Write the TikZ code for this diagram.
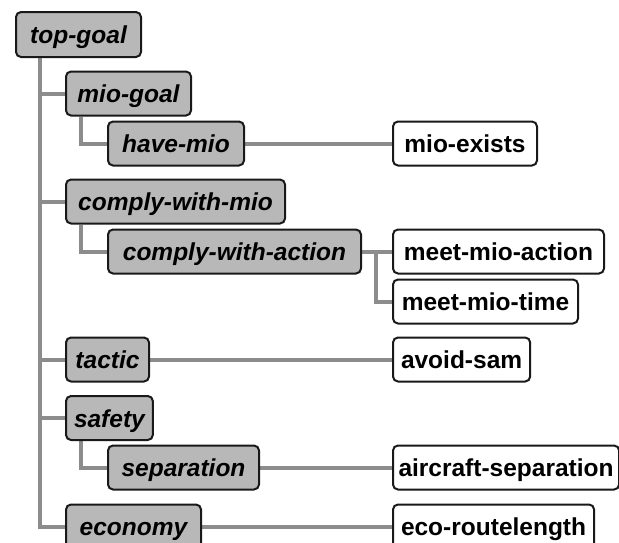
\documentclass[tikz,border=0pt]{standalone}
\usepackage{fontspec}
\setmainfont{Liberation Sans}
\usetikzlibrary{backgrounds}
\definecolor{goalfill}{RGB}{184,184,184}
\definecolor{linkgray}{RGB}{140,140,140}
\tikzset{
  box/.style={draw=black!90, line width=2pt, rounded corners=5pt, anchor=west,
    minimum height=44pt, inner xsep=8pt, inner ysep=0pt,
    text height=20pt, text depth=2pt,
    font=\fontsize{24.5}{28}\selectfont\bfseries},
  goal/.style={box, fill=goalfill, font=\fontsize{24.5}{28}\selectfont\bfseries\itshape},
  leaf/.style={box, fill=white},
  link/.style={draw=linkgray, line width=4pt}
}
\begin{document}
\begin{tikzpicture}[x=1pt,y=-1pt]
\useasboundingbox (0,0) rectangle (619,542);
\clip (0,0) rectangle (619,542);

% goal hierarchy
\node[goal, minimum width=125pt, minimum height=45pt] (top) at (15,34.5) {top-goal};
\node[goal, minimum width=125pt] (miogoal) at (65,93.5) {mio-goal};
\node[goal, minimum width=136pt] (havemio) at (107,143.5) {have-mio};
\node[goal, minimum width=219pt] (comply) at (65,201.5) {comply-with-mio};
\node[goal, minimum width=253pt] (action) at (107,251.5) {comply-with-action};
\node[goal, minimum width=83pt] (tactic) at (65,359.5) {tactic};
\node[goal, minimum width=67pt] (safety) at (65,418) {safety};
\node[goal, minimum width=151pt] (separation) at (107,467.5) {separation};
\node[goal, minimum width=135pt] (economy) at (65,526.5) {economy};

% leaf criteria
\node[leaf, minimum width=144pt] (exists) at (392,143.5) {mio-exists};
\node[leaf, minimum width=211pt] (meetaction) at (392,251.5) {meet-mio-action};
\node[leaf, minimum width=185pt] (meettime) at (392,301.5) {meet-mio-time};
\node[leaf, minimum width=135pt] (avoid) at (392,359.5) {avoid-sam};
\node[leaf, inner xsep=5.5pt] (aircraft) at (392,467.5) {aircraft-separation};
\node[leaf, minimum width=201pt] (eco) at (392,526.5) {eco-routelength};

\begin{scope}[on background layer]
  \fill[white] (0,0) rectangle (619,542);
  % trunk and first-level branches
  \draw[link] ([xshift=25pt]top.south west) |- (economy.west);
  \draw[link] ([xshift=25pt]top.south west) |- (miogoal.west);
  \draw[link] ([xshift=25pt]top.south west) |- (comply.west);
  \draw[link] ([xshift=25pt]top.south west) |- (tactic.west);
  \draw[link] ([xshift=25pt]top.south west) |- (safety.west);
  % second-level branches
  \draw[link] ([xshift=16pt]miogoal.south west) |- (havemio.west);
  \draw[link] ([xshift=16pt]comply.south west) |- (action.west);
  \draw[link] ([xshift=16pt]safety.south west) |- (separation.west);
  % goals to criteria
  \draw[link] (havemio.east) -- (exists.west);
  \draw[link] (action.east) -- (meetaction.west);
  \draw[link] ([xshift=-16pt]meetaction.west) |- (meettime.west);
  \draw[link] (tactic.east) -- (avoid.west);
  \draw[link] (separation.east) -- (aircraft.west);
  \draw[link] (economy.east) -- (eco.west);
\end{scope}
\end{tikzpicture}
\end{document}
